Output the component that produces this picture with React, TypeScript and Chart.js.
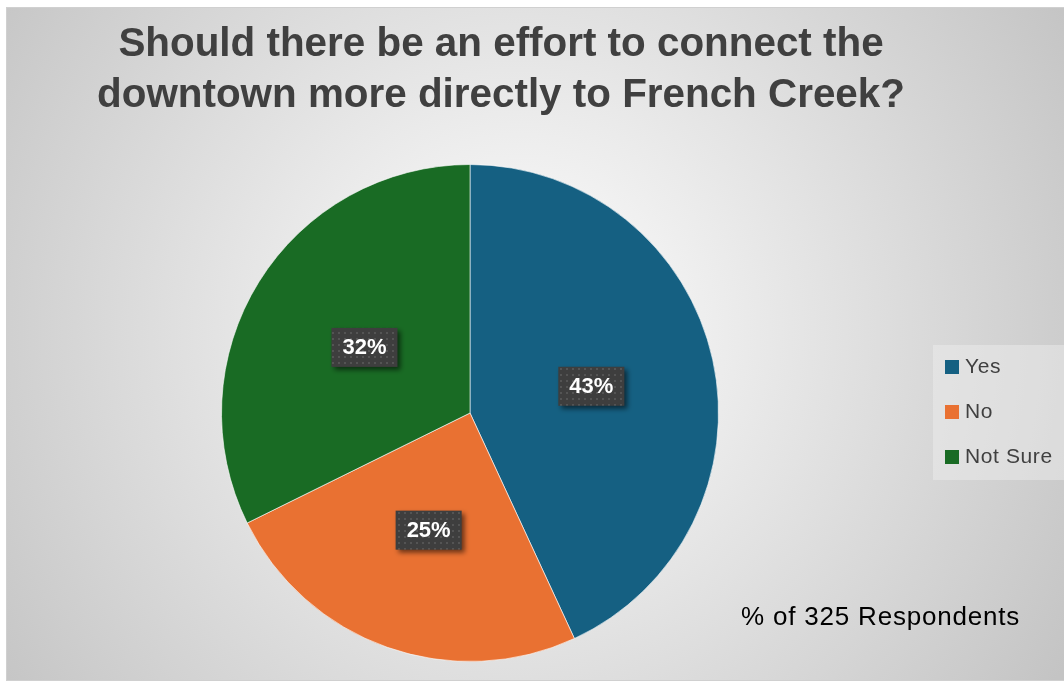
import React, { useEffect, useRef } from "react";
import { Chart, registerables } from "chart.js";
Chart.register(...registerables);

const titleLines = [
  "Should there be an effort to connect the",
  "downtown more directly to French Creek?",
];
const categories = ["Yes", "No", "Not Sure"];
const shares = [43.1, 24.6, 32.3];
const colors = ["#156082", "#E97132", "#196B24"];
const footnote = "% of 325 Respondents";

const W = 1064;
const H = 683;

function makePattern(ctx: CanvasRenderingContext2D) {
  const c = document.createElement("canvas");
  c.width = 6;
  c.height = 6;
  const p = c.getContext("2d")!;
  p.fillStyle = "#3e3e3e";
  p.fillRect(0, 0, 6, 6);
  p.fillStyle = "#545454";
  p.fillRect(2, 2, 2, 2);
  return ctx.createPattern(c, "repeat");
}

const backgroundPlugin = {
  id: "bgPlugin",
  beforeDraw(chart: any) {
    const ctx = chart.ctx as CanvasRenderingContext2D;
    ctx.save();
    ctx.fillStyle = "#ffffff";
    ctx.fillRect(0, 0, W, H);
    const x0 = 6, y0 = 7, x1 = W, y1 = 681;
    const g = ctx.createRadialGradient(520, 330, 0, 520, 330, 640);
    g.addColorStop(0, "#ffffff");
    g.addColorStop(1, "#c4c4c4");
    ctx.fillStyle = g;
    ctx.fillRect(x0, y0, x1 - x0, y1 - y0);
    ctx.strokeStyle = "#d0d0d0";
    ctx.lineWidth = 1;
    ctx.strokeRect(x0 + 0.5, y0 + 0.5, x1 - x0, y1 - y0 - 1);
    // title
    ctx.fillStyle = "#404040";
    ctx.font = "bold 40.4px 'Liberation Sans', Arial, sans-serif";
    ctx.textAlign = "center";
    ctx.textBaseline = "middle";
    titleLines.forEach((t, i) => ctx.fillText(t, 501, 45 + i * 51));
    // legend
    ctx.fillStyle = "rgba(240,240,240,0.45)";
    ctx.fillRect(933, 345, W - 933, 135);
    ctx.font = "21px 'Liberation Sans', Arial, sans-serif";
    (ctx as any).letterSpacing = "0.6px";
    ctx.textAlign = "left";
    categories.forEach((c, i) => {
      const cy = 367 + i * 45;
      ctx.fillStyle = colors[i];
      ctx.fillRect(945, cy - 7, 14, 14);
      ctx.fillStyle = "#404040";
      ctx.fillText(c, 965, cy);
    });
    // footnote
    ctx.fillStyle = "#000000";
    ctx.font = "26px 'Liberation Sans', Arial, sans-serif";
    (ctx as any).letterSpacing = "0.8px";
    ctx.fillText(footnote, 741, 618);
    (ctx as any).letterSpacing = "0px";
    ctx.restore();
  },
};

const labelPlugin = {
  id: "labelPlugin",
  afterDatasetsDraw(chart: any) {
    const ctx = chart.ctx as CanvasRenderingContext2D;
    const meta = chart.getDatasetMeta(0);
    const pattern = makePattern(ctx);
    ctx.save();
    ctx.font = "bold 22px 'Liberation Sans', Arial, sans-serif";
    meta.data.forEach((arc: any, i: number) => {
      const pos = arc.tooltipPosition();
      const text = Math.round(shares[i]) + "%";
      const tw = ctx.measureText(text).width;
      const bw = tw + 22;
      const bh = 39;
      const bx = pos.x - bw / 2;
      const by = pos.y - bh / 2;
      ctx.save();
      ctx.shadowColor = "rgba(0,0,0,0.55)";
      ctx.shadowBlur = 5;
      ctx.shadowOffsetX = 3;
      ctx.shadowOffsetY = 3;
      ctx.fillStyle = pattern || "#404040";
      ctx.fillRect(bx, by, bw, bh);
      ctx.restore();
      ctx.fillStyle = "#ffffff";
      ctx.textAlign = "center";
      ctx.textBaseline = "middle";
      ctx.fillText(text, pos.x, pos.y + 1);
    });
    ctx.restore();
  },
};

export default function App() {
  const ref = useRef<HTMLCanvasElement | null>(null);
  useEffect(() => {
    const canvas = ref.current!;
    const chart = new Chart(canvas, {
      type: "pie",
      data: {
        labels: categories,
        datasets: [
          {
            data: shares,
            backgroundColor: colors,
            borderColor: "rgba(255,255,255,0.6)",
            borderWidth: 1,
          },
        ],
      },
      options: {
        animation: false,
        responsive: false,
        maintainAspectRatio: false,
        layout: { padding: { left: 221, right: 345, top: 164, bottom: 21 } },
        plugins: {
          legend: { display: false },
          title: { display: false },
          tooltip: { enabled: false },
        },
      },
      plugins: [backgroundPlugin, labelPlugin],
    });
    return () => chart.destroy();
  }, []);
  return (
    <div style={{ position: "absolute", left: 0, top: 0, width: W, height: H }}>
      <canvas ref={ref} width={W} height={H} style={{ display: "block" }} />
    </div>
  );
}
